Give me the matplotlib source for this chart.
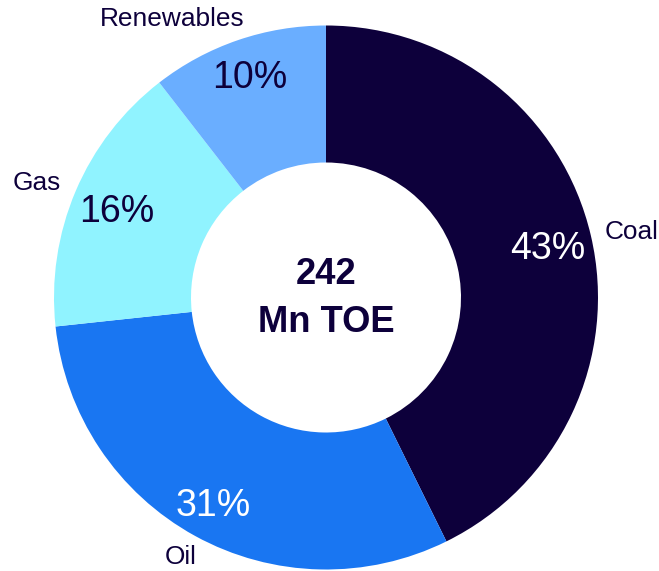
import numpy as np
import matplotlib.pyplot as plt

plt.rcParams['font.family'] = ['Liberation Sans', 'DejaVu Sans']

# Daten (Anteile am Primärenergieverbrauch)
kategorien = ['Coal', 'Oil', 'Gas', 'Renewables']
anteile = [42.7, 30.6, 16.2, 10.5]
pct_texte = ['43%', '31%', '16%', '10%']
farben = ['#0d003b', '#1976f2', '#90f3ff', '#6aaeff']
pct_farben = ['white', 'white', '#0d003b', '#0d003b']
mitte_text = '242\nMn TOE'

dunkel = '#0d003b'

# Layout (Pixel relativ zur Ringmitte, y nach oben)
radius = 272
ring_breite = 137
pct_abstand = [228, 234, 227, 235]
label_pos = [(306, 65.5), (-145, -260), (-289, 114.5), (-154, 279)]

fig = plt.figure(figsize=(6.59, 5.71), dpi=100)
ax = fig.add_axes([0, 0, 1, 1])

wedges, _ = ax.pie(
    anteile, colors=farben, radius=radius,
    startangle=90, counterclock=False,
    wedgeprops=dict(width=ring_breite, linewidth=0),
)

for w, txt, c, r in zip(wedges, pct_texte, pct_farben, pct_abstand):
    mitte = np.deg2rad((w.theta1 + w.theta2) / 2)
    ax.text(r * np.cos(mitte), r * np.sin(mitte) - 3, txt, ha='center', va='center',
            fontsize=27, color=c)

for name, (x, y) in zip(kategorien, label_pos):
    ax.text(x, y, name, ha='center', va='center', fontsize=18.9, color=dunkel)

ax.text(0, -1, mitte_text, ha='center', va='center', fontsize=26.2,
        fontweight='bold', color=dunkel, linespacing=1.46)

ax.set_xlim(-326, 659 - 326)
ax.set_ylim(-(571 - 297.5), 297.5)
ax.set_aspect('equal')
ax.axis('off')

fig.savefig('out.png', dpi=100)
